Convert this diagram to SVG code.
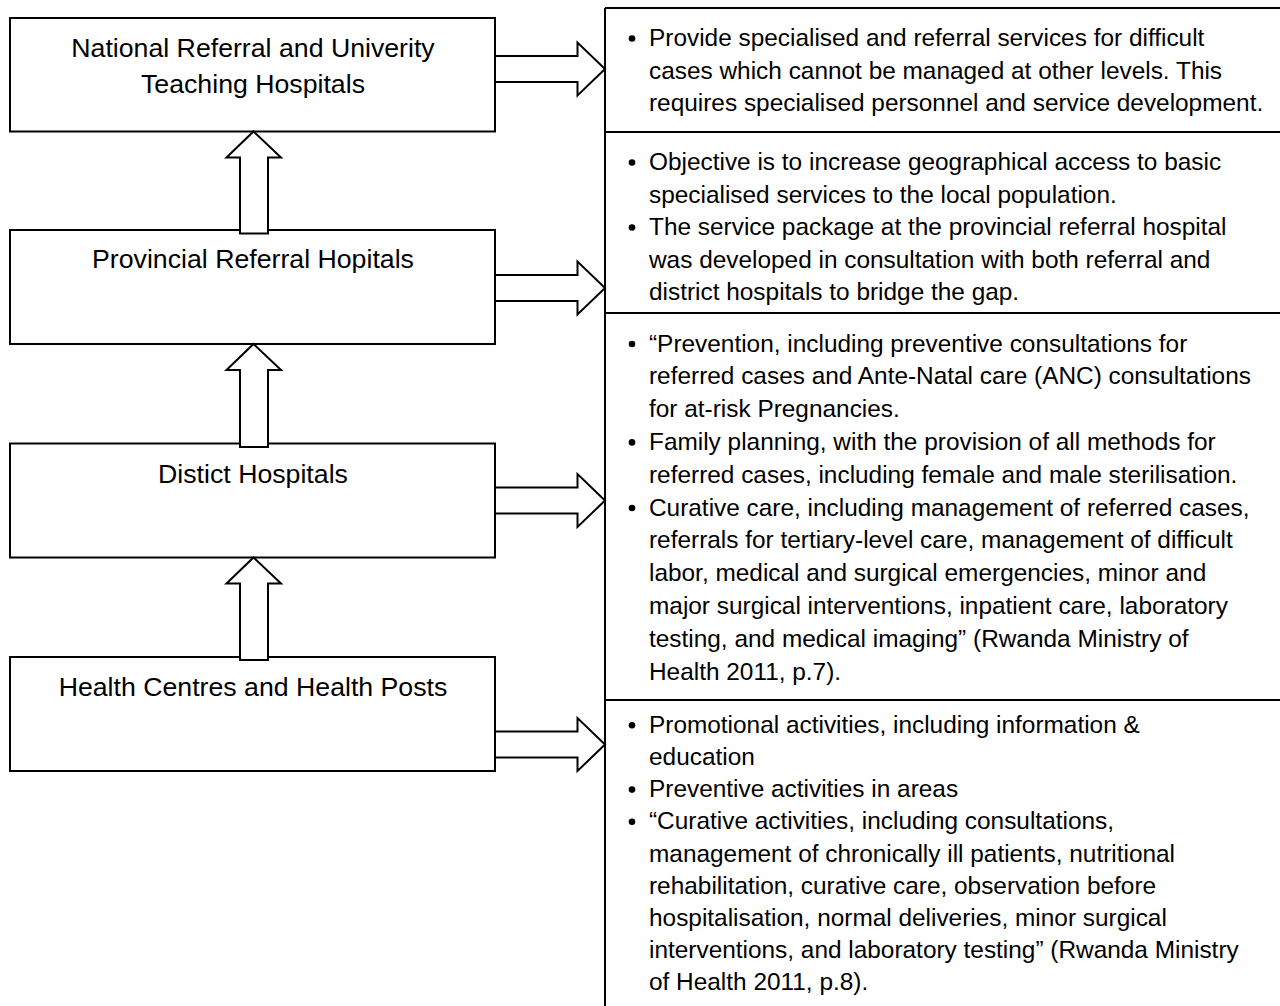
<svg xmlns="http://www.w3.org/2000/svg" width="1280" height="1006" viewBox="0 0 1280 1006">
<style>
.box{fill:#fff;stroke:#000;stroke-width:2}
.arr{fill:#fff;stroke:#000;stroke-width:2;stroke-linejoin:miter}
.lbl{font-family:"Liberation Sans",Arial,sans-serif;font-size:26.7px;fill:#000;text-anchor:middle}
.pt{font-family:"Liberation Sans",Arial,sans-serif;font-size:24.4px;fill:#000}
.ln{stroke:#000;stroke-width:2;fill:none}
.bul{fill:#000}
</style>
<rect width="1280" height="1006" fill="#fff"/>

<g id="node-national">
<rect class="box" x="10" y="18" width="485" height="113.5"/>
<text class="lbl" x="253" y="57.3">National Referral and Univerity</text>
<text class="lbl" x="253" y="92.7">Teaching Hospitals</text>
</g>
<g id="node-provincial">
<rect class="box" x="10" y="230" width="485" height="114"/>
<text class="lbl" x="253" y="268.3">Provincial Referral Hopitals</text>
</g>
<g id="node-district">
<rect class="box" x="10" y="443.5" width="485" height="114"/>
<text class="lbl" x="253" y="483.3">Distict Hospitals</text>
</g>
<g id="node-health-centres">
<rect class="box" x="10" y="657" width="485" height="114"/>
<text class="lbl" x="253" y="696">Health Centres and Health Posts</text>
</g>

<g id="panel">
<path class="ln" d="M605,8 H1280 M605,8 V1006 M605,132 H1280 M605,313 H1280 M605,700 H1280"/>
<g id="panel-national">
<circle class="bul" cx="632" cy="38.5" r="3.3"/>
<text class="pt" x="649" y="46">Provide specialised and referral services for difficult</text>
<text class="pt" x="649" y="78.5">cases which cannot be managed at other levels. This</text>
<text class="pt" x="649" y="111">requires specialised personnel and service development.</text>
</g>
<g id="panel-provincial">
<circle class="bul" cx="632" cy="162.5" r="3.3"/>
<text class="pt" x="649" y="170">Objective is to increase geographical access to basic</text>
<text class="pt" x="649" y="202.5">specialised services to the local population.</text>
<circle class="bul" cx="632" cy="227.5" r="3.3"/>
<text class="pt" x="649" y="235">The service package at the provincial referral hospital</text>
<text class="pt" x="649" y="267.5">was developed in consultation with both referral and</text>
<text class="pt" x="649" y="300">district hospitals to bridge the gap.</text>
</g>
<g id="panel-district">
<circle class="bul" cx="632" cy="344" r="3.3"/>
<text class="pt" x="649" y="351.5">“Prevention, including preventive consultations for</text>
<text class="pt" x="649" y="384.3">referred cases and Ante-Natal care (ANC) consultations</text>
<text class="pt" x="649" y="417.1">for at-risk Pregnancies.</text>
<circle class="bul" cx="632" cy="442.4" r="3.3"/>
<text class="pt" x="649" y="449.9">Family planning, with the provision of all methods for</text>
<text class="pt" x="649" y="482.7">referred cases, including female and male sterilisation.</text>
<circle class="bul" cx="632" cy="508" r="3.3"/>
<text class="pt" x="649" y="515.5">Curative care, including management of referred cases,</text>
<text class="pt" x="649" y="548.3">referrals for tertiary-level care, management of difficult</text>
<text class="pt" x="649" y="581.1">labor, medical and surgical emergencies, minor and</text>
<text class="pt" x="649" y="613.9">major surgical interventions, inpatient care, laboratory</text>
<text class="pt" x="649" y="646.7">testing, and medical imaging” (Rwanda Ministry of</text>
<text class="pt" x="649" y="679.5">Health 2011, p.7).</text>
</g>
<g id="panel-health-centres">
<circle class="bul" cx="632" cy="725.2" r="3.3"/>
<text class="pt" x="649" y="732.7">Promotional activities, including information &amp;</text>
<text class="pt" x="649" y="764.9">education</text>
<circle class="bul" cx="632" cy="789.6" r="3.3"/>
<text class="pt" x="649" y="797.1">Preventive activities in areas</text>
<circle class="bul" cx="632" cy="821.8" r="3.3"/>
<text class="pt" x="649" y="829.3">“Curative activities, including consultations,</text>
<text class="pt" x="649" y="861.5">management of chronically ill patients, nutritional</text>
<text class="pt" x="649" y="893.7">rehabilitation, curative care, observation before</text>
<text class="pt" x="649" y="925.9">hospitalisation, normal deliveries, minor surgical</text>
<text class="pt" x="649" y="958.1">interventions, and laboratory testing” (Rwanda Ministry</text>
<text class="pt" x="649" y="990.3">of Health 2011, p.8).</text>
</g>
</g>

<g id="connectors">
<polygon class="arr" points="253.5,131.5 281,157.5 268,157.5 268,233.5 240,233.5 240,157.5 226.5,157.5"/>
<polygon class="arr" points="253.5,344 281,370 268,370 268,447 240,447 240,370 226.5,370"/>
<polygon class="arr" points="253.5,557.5 281,583.5 268,583.5 268,660 240,660 240,583.5 226.5,583.5"/>
<polygon class="arr" points="495,56 577.5,56 577.5,42.5 605,69 577.5,95.5 577.5,82 495,82"/>
<polygon class="arr" points="495,275 577.5,275 577.5,261.5 605,288 577.5,314.5 577.5,301 495,301"/>
<polygon class="arr" points="495,487.5 577.5,487.5 577.5,474 605,500.5 577.5,527 577.5,513.5 495,513.5"/>
<polygon class="arr" points="495,731.5 577.5,731.5 577.5,718 605,744.5 577.5,771 577.5,757.5 495,757.5"/>
</g>
</svg>
